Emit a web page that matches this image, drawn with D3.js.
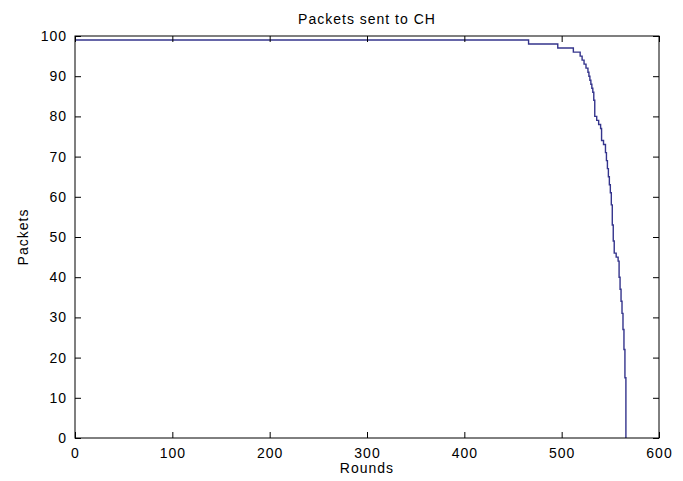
<!DOCTYPE html>
<html>
<head>
<meta charset="utf-8">
<script src="https://cdn.jsdelivr.net/npm/d3@7"></script>
<style>
  body { margin: 0; background: #fff; }
  text { font-family: "Liberation Sans", Arial, sans-serif; fill: #000; letter-spacing: 1px; }
</style>
</head>
<body>
<svg class="chart" width="683" height="481"></svg>
<script>
// Step points: round at which the packet count changes, and the new count
const rounds  = [0, 466, 496, 512, 519, 521, 523, 525, 527, 528, 529, 530, 531, 532, 533, 534,
                 536, 538, 540, 541, 543, 545, 546, 547, 548, 549, 550, 551, 552, 553, 554,
                 556, 558, 559, 560, 561, 562, 563, 564, 565, 566];
const packets = [99, 98, 97, 96, 95, 94, 93, 92, 91, 90, 89, 88, 87, 86, 84, 80,
                 79, 78, 77, 74, 73, 71, 69, 67, 65, 63, 61, 58, 53, 49, 46,
                 45, 44, 40, 37, 34, 31, 27, 22, 15, 0];
const xTicks = [0, 100, 200, 300, 400, 500, 600];
const yTicks = [0, 10, 20, 30, 40, 50, 60, 70, 80, 90, 100];

const svg = d3.select(".chart");
const margin = { top: 36, right: 24, bottom: 43, left: 75 },
      width = +svg.attr("width") - margin.left - margin.right,
      height = +svg.attr("height") - margin.top - margin.bottom;

const g = svg.append("g").attr("transform", `translate(${margin.left},${margin.top})`);

const x = d3.scaleLinear().domain([0, 600]).range([0, width]);
const y = d3.scaleLinear().domain([0, 100]).range([height, 0]);

const data = rounds.map((r, i) => ({ r: r, p: packets[i] }));

// Data line
g.append("path")
    .datum(data)
    .attr("fill", "none")
    .attr("stroke", "#34348c")
    .attr("stroke-width", 1.4)
    .attr("d", d3.line().x(d => x(d.r)).y(d => y(d.p)).curve(d3.curveStepAfter));

// Axes, matlab style: ticks inside, on all four sides
const tl = 6;
g.append("g")
    .attr("transform", `translate(0,${height})`)
    .call(d3.axisBottom(x).tickValues(xTicks).tickSizeInner(-tl).tickSizeOuter(0).tickPadding(10))
    .call(a => a.select(".domain").remove());
g.append("g")
    .call(d3.axisTop(x).tickValues(xTicks).tickSizeInner(-tl).tickSizeOuter(0).tickFormat(""))
    .call(a => a.select(".domain").remove());
g.append("g")
    .call(d3.axisLeft(y).tickValues(yTicks).tickSizeInner(-tl).tickSizeOuter(0).tickPadding(8))
    .call(a => a.select(".domain").remove());
g.append("g")
    .attr("transform", `translate(${width},0)`)
    .call(d3.axisRight(y).tickValues(yTicks).tickSizeInner(-tl).tickSizeOuter(0).tickFormat(""))
    .call(a => a.select(".domain").remove());

g.selectAll(".tick text").attr("font-size", 14).attr("font-family", "Liberation Sans, Arial, sans-serif");
g.selectAll(".tick line").attr("stroke", "#000");

// Box
g.append("rect")
    .attr("width", width)
    .attr("height", height)
    .attr("fill", "none")
    .attr("stroke", "#000")
    .attr("stroke-width", 1);

// Labels
svg.append("text")
    .attr("x", margin.left + width / 2)
    .attr("y", 24)
    .attr("text-anchor", "middle")
    .attr("font-size", 14)
    .text("Packets sent to CH");

svg.append("text")
    .attr("x", margin.left + width / 2)
    .attr("y", 473)
    .attr("text-anchor", "middle")
    .attr("font-size", 14)
    .text("Rounds");

svg.append("text")
    .attr("transform", `translate(28,${margin.top + height / 2}) rotate(-90)`)
    .attr("text-anchor", "middle")
    .attr("font-size", 14)
    .text("Packets");
</script>
</body>
</html>
